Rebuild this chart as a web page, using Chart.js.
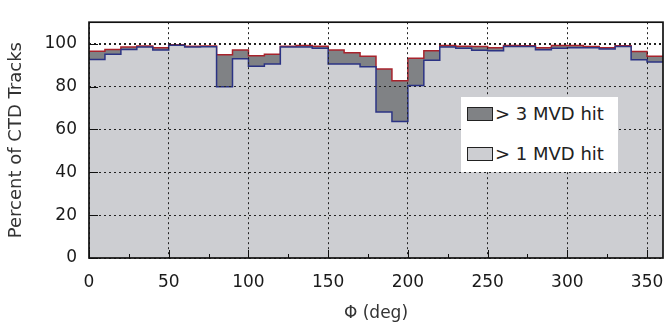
<!DOCTYPE html>
<html>
<head>
<meta charset="utf-8">
<script src="https://cdn.jsdelivr.net/npm/chart.js@4/dist/chart.umd.min.js"></script>
<style>
  body { margin: 0; background: #fff; }
  #wrap { position: relative; width: 666px; height: 332px; }
  #legend {
    position: absolute; left: 461px; top: 97px; width: 157px; height: 75px;
    background: #fff; font-family: "DejaVu Sans", sans-serif; font-size: 18px; color: #222;
  }
  .item { position: absolute; left: 6px; height: 22px; line-height: 22px; white-space: nowrap; }
  .sw { display: inline-block; width: 24px; height: 12px; border: 1px solid #222; vertical-align: middle; margin-right: 2px; position: relative; top: -1px; }
</style>
</head>
<body>
<div id="wrap">
  <canvas id="chart" width="666" height="332"></canvas>
  <div id="legend">
    <div class="item" style="top:6px"><span class="sw" style="background:#808285"></span>&gt; 3 MVD hit</div>
    <div class="item" style="top:46px"><span class="sw" style="background:#cdced2"></span>&gt; 1 MVD hit</div>
  </div>
</div>
<script>
// bins of 10 deg in phi
const binStarts = [0, 10, 20, 30, 40, 50, 60, 70, 80, 90, 100, 110, 120, 130, 140, 150, 160, 170,
                   180, 190, 200, 210, 220, 230, 240, 250, 260, 270, 280, 290, 300, 310, 320, 330, 340, 350];
const binWidth = 10;

// upper curve (red outline, dark fill)
const upperPct = [96.5, 97.3, 98.4, 98.9, 98.1, 99.5, 98.8, 98.9, 94.8, 97.0, 94.4, 95.0,
                  98.8, 99.1, 98.8, 97.0, 95.8, 94.1, 88.2, 82.7, 93.2, 96.7, 99.1, 98.8,
                  98.7, 98.1, 99.1, 99.0, 98.1, 99.1, 99.1, 98.7, 98.1, 99.0, 96.3, 94.1];
// lower curve (blue outline, light fill)
const lowerPct = [92.6, 95.0, 97.3, 98.4, 97.0, 99.2, 98.4, 98.5, 79.9, 92.9, 89.5, 90.5,
                  98.4, 98.4, 97.9, 90.5, 90.5, 89.2, 68.1, 63.7, 80.5, 92.3, 98.4, 97.8,
                  96.9, 96.7, 98.7, 98.7, 97.2, 97.8, 98.1, 98.1, 97.5, 98.7, 92.5, 91.4];

const xTicks = [0, 50, 100, 150, 200, 250, 300, 350];
const xMinorTicks = [25, 75, 125, 175, 225, 275, 325];
const yTicks = [0, 20, 40, 60, 80, 100];

function steps(vals) {
    const pts = binStarts.map((x, i) => ({ x: x, y: vals[i] }));
    const last = binStarts.length - 1;
    pts.push({ x: binStarts[last] + binWidth, y: vals[last] });
    return pts;
}

const frameAndTicks = {
    id: 'frameAndTicks',
    afterDraw(chart) {
        const { ctx, chartArea: ca, scales } = chart;
        ctx.save();
        ctx.setLineDash([]);
        ctx.strokeStyle = '#111';
        ctx.lineWidth = 1;
        xTicks.forEach(v => {
            const px = Math.round(scales.x.getPixelForValue(v)) + 0.5;
            ctx.beginPath(); ctx.moveTo(px, ca.bottom); ctx.lineTo(px, ca.bottom - 8); ctx.stroke();
        });
        xMinorTicks.forEach(v => {
            const px = Math.round(scales.x.getPixelForValue(v)) + 0.5;
            ctx.beginPath(); ctx.moveTo(px, ca.bottom); ctx.lineTo(px, ca.bottom - 4); ctx.stroke();
        });
        yTicks.forEach(v => {
            const py = Math.round(scales.y.getPixelForValue(v)) + 0.5;
            ctx.beginPath(); ctx.moveTo(ca.left, py); ctx.lineTo(ca.left + 9, py); ctx.stroke();
        });
        ctx.lineWidth = 1.7;
        ctx.strokeRect(ca.left, ca.top, ca.right - ca.left, ca.bottom - ca.top);
        ctx.restore();
    }
};

const font = { family: '"DejaVu Sans", sans-serif', size: 17 };
const titleFont = { family: '"DejaVu Sans", sans-serif', size: 18 };

new Chart(document.getElementById('chart').getContext('2d'), {
    type: 'line',
    data: {
        datasets: [{
            label: '> 1 MVD hit',
            data: steps(lowerPct),
            stepped: true,
            borderColor: '#2b3384',
            borderWidth: 1.5,
            backgroundColor: '#cdced2',
            fill: 'origin',
            pointRadius: 0
        }, {
            label: '> 3 MVD hit',
            data: steps(upperPct),
            stepped: true,
            borderColor: '#a8232c',
            borderWidth: 1.5,
            backgroundColor: '#808285',
            fill: 'origin',
            pointRadius: 0
        }]
    },
    options: {
        responsive: false,
        animation: false,
        layout: { padding: { top: 8, right: 3, left: 0, bottom: 0 } },
        plugins: { legend: { display: false }, tooltip: { enabled: false } },
        scales: {
            x: {
                type: 'linear', min: 0, max: 360,
                afterBuildTicks: s => { s.ticks = xTicks.map(v => ({ value: v })); },
                afterFit: s => { s.height = 74; s.paddingLeft = 0; s.paddingRight = 0; },
                grid: { color: '#222', lineWidth: 1, drawTicks: false, z: 1 },
                border: { display: false, dash: [2, 3] },
                ticks: { font: font, color: '#1a1a1a', padding: 14, maxRotation: 0 },
                title: { display: true, text: 'Φ (deg)', font: font, color: '#333', padding: { top: 0, bottom: 8 } }
            },
            y: {
                min: 0, max: 110,
                afterBuildTicks: s => { s.ticks = yTicks.map(v => ({ value: v })); },
                afterFit: s => { s.width = 89; },
                grid: {
                    color: '#222', drawTicks: false, z: 1,
                    lineWidth: c => (c.tick && c.tick.value === 100 ? 2 : 1)
                },
                border: { display: false, dash: [2, 3] },
                ticks: { font: font, color: '#1a1a1a', padding: 12 },
                title: { display: true, text: 'Percent of CTD Tracks', font: titleFont, color: '#333', padding: { top: 6, bottom: 0 } }
            }
        }
    },
    plugins: [frameAndTicks]
});
</script>
</body>
</html>
